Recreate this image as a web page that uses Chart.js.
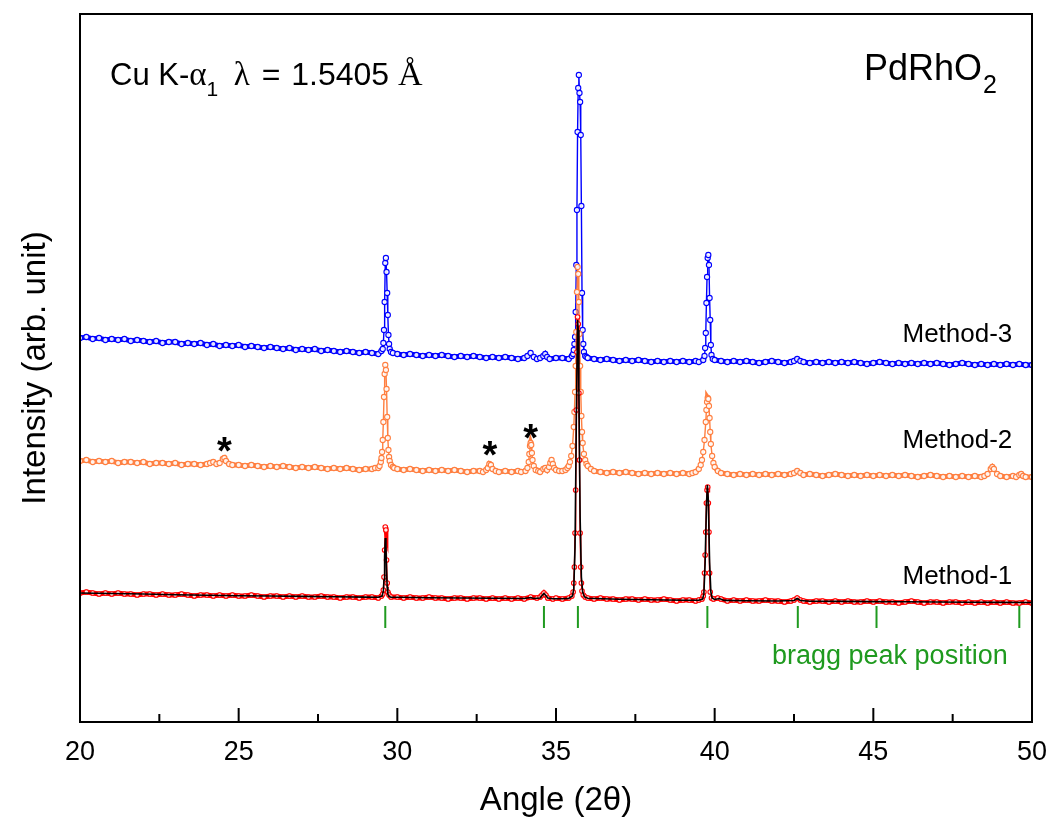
<!DOCTYPE html>
<html>
<head>
<meta charset="utf-8">
<script src="https://cdn.jsdelivr.net/npm/chart.js@4.4.0/dist/chart.umd.min.js"></script>
<style>
  html, body { margin: 0; background: #fff; }
</style>
</head>
<body>
<canvas id="xrd" width="1053" height="823"></canvas>
<script>
// 2theta / intensity pairs (arb. units, stacked traces)
const m3 = [
[20.0,384],[20.2,385],[20.4,383],[20.6,384],[20.8,382],[21.0,383],[21.2,382],[21.4,383],[21.6,381],[21.8,382],
[22.0,381],[22.2,380],[22.4,381],[22.6,379],[22.8,380],[23.0,380],[23.2,378],[23.4,379],[23.6,378],[23.8,379],
[24.0,377],[24.2,378],[24.4,376],[24.6,377],[24.8,376],[25.0,377],[25.2,375],[25.4,376],[25.6,375],[25.8,374],
[26.0,375],[26.2,374],[26.4,373],[26.6,374],[26.8,372],[27.0,373],[27.2,372],[27.4,373],[27.6,371],[27.8,372],
[28.0,371],[28.2,370],[28.4,371],[28.6,370],[28.8,369],[29.0,370],[29.2,369],[29.4,368],
[29.50,371],[29.54,373],[29.56,379],[29.58,392],[29.60,420],[29.62,459],[29.64,464],[29.66,450],[29.68,429],
[29.70,407],[29.72,387],[29.74,378],[29.76,373],[29.80,370],[29.86,369],
[30.0,368],[30.2,367],[30.4,368],[30.6,367],[30.8,366],[31.0,367],[31.2,366],[31.4,367],[31.6,366],[31.8,365],
[32.0,366],[32.2,365],[32.4,366],[32.6,365],[32.8,364],[33.0,365],[33.2,364],[33.4,365],[33.6,364],[33.8,363],
[34.0,364],[34.1,366],[34.2,369],[34.3,365],[34.4,363],[34.5,364],[34.6,366],[34.66,368],[34.72,365],[34.8,363],
[35.0,364],[35.2,364],[35.4,363],
[35.50,366],[35.54,368],[35.56,372],[35.58,378],[35.60,385],[35.62,410],[35.64,457],[35.66,512],[35.68,590],
[35.70,634],[35.72,647],[35.74,629],[35.76,620],[35.78,587],[35.80,516],[35.82,429],[35.84,392],[35.86,378],
[35.88,370],[35.92,366],[35.96,365],
[36.0,364],[36.2,363],[36.4,362],[36.6,363],[36.8,362],[37.0,361],[37.2,362],[37.4,361],[37.6,362],[37.8,361],
[38.0,360],[38.2,361],[38.4,360],[38.6,361],[38.8,360],[39.0,361],[39.2,360],[39.4,361],[39.5,360],
[39.64,362],[39.68,366],[39.70,374],[39.72,389],[39.74,419],[39.76,445],[39.78,464],[39.80,467],[39.82,457],
[39.84,424],[39.86,402],[39.88,377],[39.90,367],[39.94,363],[40.0,362],
[40.2,361],[40.4,360],[40.6,361],[40.8,360],[41.0,361],[41.2,360],[41.4,359],[41.6,360],[41.8,361],[42.0,360],
[42.2,359],[42.4,360],[42.5,361],[42.6,363],[42.7,361],[42.8,360],[43.0,359],[43.2,360],[43.4,359],[43.6,360],
[43.8,359],[44.0,360],[44.2,359],[44.4,360],[44.6,359],[44.8,358],[45.0,359],[45.2,360],[45.4,359],[45.6,358],
[45.8,359],[46.0,358],[46.2,359],[46.4,358],[46.6,359],[46.8,358],[47.0,359],[47.2,358],[47.4,357],[47.6,358],
[47.8,359],[48.0,358],[48.2,357],[48.4,358],[48.6,357],[48.8,358],[49.0,357],[49.2,358],[49.4,357],[49.6,358],
[49.8,357],[50.0,357]
];

const m2 = [
[20.0,261],[20.2,262],[20.4,260],[20.6,261],[20.8,260],[21.0,261],[21.2,259],[21.4,260],[21.6,260],[21.8,259],
[22.0,260],[22.2,258],[22.4,259],[22.6,259],[22.8,258],[23.0,259],[23.2,257],[23.4,258],[23.6,258],[23.8,257],
[24.0,258],[24.1,259],[24.2,260],[24.3,258],[24.4,259],[24.5,263],[24.55,264],[24.6,261],[24.7,258],[24.8,257],
[25.0,257],[25.2,256],[25.4,257],[25.6,256],[25.8,255],[26.0,256],[26.2,255],[26.4,256],[26.6,255],[26.8,254],
[27.0,255],[27.2,254],[27.4,255],[27.6,254],[27.8,253],[28.0,254],[28.2,253],[28.4,254],[28.6,253],[28.8,252],
[29.0,253],[29.2,253],[29.3,254],
[29.40,254],[29.44,256],[29.48,260],[29.50,264],[29.52,270],[29.54,282],[29.56,300],[29.58,325],[29.60,348],
[29.62,357],[29.64,352],[29.66,333],[29.68,305],[29.70,284],[29.72,272],[29.74,265],[29.76,261],[29.80,257],
[29.86,255],[29.90,254],
[30.0,253],[30.2,252],[30.4,253],[30.6,252],[30.8,251],[31.0,252],[31.2,251],[31.4,252],[31.6,251],[31.8,252],
[32.0,251],[32.2,250],[32.4,251],[32.6,251],[32.7,250],[32.8,252],[32.85,254],[32.9,258],[32.95,257],[33.0,253],
[33.1,251],[33.2,250],[33.4,251],[33.6,250],[33.8,251],[33.9,250],
[34.04,251],[34.10,254],[34.14,260],[34.16,268],[34.18,276],[34.20,279],[34.22,277],[34.24,269],[34.26,262],
[34.30,256],[34.36,252],[34.44,251],
[34.5,250],[34.60,253],[34.66,254],[34.72,252],[34.78,255],[34.82,259],[34.86,262],[34.90,258],[34.94,254],[35.0,252],
[35.1,251],[35.2,251],
[35.30,252],[35.36,254],[35.40,256],[35.44,260],[35.48,266],[35.52,276],[35.56,295],[35.58,310],[35.60,330],
[35.62,356],[35.64,390],[35.66,430],[35.68,455],[35.70,448],[35.72,420],[35.74,388],[35.76,356],[35.78,330],
[35.80,306],[35.82,290],[35.84,279],[35.88,268],[35.92,262],[35.96,258],[36.00,256],[36.10,253],[36.20,251],
[36.4,250],[36.6,249],[36.8,250],[37.0,249],[37.2,250],[37.4,249],[37.6,248],[37.8,249],[38.0,248],[38.2,249],
[38.4,248],[38.6,249],[38.8,248],[39.0,249],[39.2,248],[39.3,249],
[39.40,250],[39.50,253],[39.56,257],[39.60,262],[39.64,270],[39.68,282],[39.72,300],[39.74,312],[39.76,320],
[39.78,324],[39.80,323],[39.82,316],[39.84,304],[39.86,290],[39.88,278],[39.92,266],[39.96,259],[40.00,255],
[40.10,251],[40.20,249],
[40.4,248],[40.6,247],[40.8,248],[41.0,247],[41.2,248],[41.4,247],[41.6,248],[41.8,247],[42.0,248],[42.2,247],
[42.4,248],[42.5,249],[42.6,251],[42.7,249],[42.8,247],[43.0,248],[43.2,247],[43.4,246],[43.6,247],[43.8,248],
[44.0,247],[44.2,246],[44.4,247],[44.6,246],[44.8,247],[45.0,246],[45.2,247],[45.4,246],[45.6,247],[45.8,246],
[46.0,247],[46.2,246],[46.4,245],[46.6,246],[46.8,247],[47.0,246],[47.2,245],[47.4,246],[47.6,245],[47.8,246],
[48.0,245],[48.2,246],[48.4,245],[48.5,246],[48.6,248],[48.7,253],[48.75,255],[48.8,253],[48.9,248],[49.0,246],
[49.2,245],[49.4,246],[49.5,245],[49.6,247],[49.66,248],[49.72,246],[49.8,245],[50.0,245]
];

const m1 = [
[20.0,129],[20.2,130],[20.4,129],[20.6,128],[20.8,129],[21.0,128],[21.2,129],[21.4,128],[21.6,128],[21.8,127],
[22.0,128],[22.2,128],[22.4,127],[22.6,128],[22.8,127],[23.0,127],[23.2,128],[23.4,127],[23.6,126],[23.8,127],
[24.0,127],[24.2,126],[24.4,127],[24.6,126],[24.8,127],[25.0,126],[25.2,126],[25.4,127],[25.6,126],[25.8,125],
[26.0,126],[26.2,126],[26.4,125],[26.6,126],[26.8,125],[27.0,126],[27.2,125],[27.4,125],[27.6,126],[27.8,125],
[28.0,125],[28.2,124],[28.4,125],[28.6,125],[28.8,124],[29.0,125],[29.2,125],[29.4,124],
[29.50,126],[29.54,128],[29.56,132],[29.58,145],[29.60,172],[29.62,195],[29.64,192],[29.66,162],[29.68,139],
[29.70,130],[29.74,127],[29.80,125],
[30.0,125],[30.2,124],[30.4,125],[30.6,124],[30.8,124],[31.0,125],[31.2,124],[31.4,124],[31.6,123],[31.8,124],
[32.0,124],[32.2,123],[32.4,124],[32.6,124],[32.8,123],[33.0,124],[33.2,123],[33.4,124],[33.6,123],[33.8,124],
[34.0,123],[34.2,125],[34.4,124],[34.5,125],[34.56,127],[34.62,129],[34.68,127],[34.74,124],[34.9,123],[35.0,124],
[35.2,123],[35.4,124],
[35.50,126],[35.54,130],[35.56,139],[35.58,155],[35.60,189],[35.62,232],[35.64,312],[35.66,370],[35.68,405],
[35.70,398],[35.72,329],[35.74,262],[35.76,189],[35.78,155],[35.80,139],[35.82,131],[35.86,127],[35.92,125],
[36.0,124],[36.2,123],[36.4,124],[36.6,123],[36.8,123],[37.0,122],[37.2,123],[37.4,123],[37.6,122],[37.8,123],
[38.0,122],[38.2,122],[38.4,123],[38.6,122],[38.8,121],[39.0,122],[39.2,122],[39.4,121],[39.5,122],
[39.60,123],[39.64,126],[39.66,130],[39.68,149],[39.70,167],[39.72,190],[39.74,219],[39.76,232],[39.78,235],
[39.80,219],[39.82,190],[39.84,149],[39.86,130],[39.90,124],[39.96,123],
[40.1,124],[40.2,123],[40.4,121],[40.6,122],[40.8,121],[41.0,122],[41.2,121],[41.4,121],[41.6,122],[41.8,121],
[42.0,121],[42.2,120],[42.4,121],[42.5,122],[42.6,124],[42.7,122],[42.8,121],[43.0,120],[43.2,121],[43.4,121],
[43.6,120],[43.8,121],[44.0,120],[44.2,121],[44.4,120],[44.6,120],[44.8,121],[45.0,120],[45.2,121],[45.4,120],
[45.6,120],[45.8,119],[46.0,120],[46.2,121],[46.4,120],[46.6,119],[46.8,120],[47.0,120],[47.2,119],[47.4,120],
[47.6,120],[47.8,119],[48.0,120],[48.2,119],[48.4,120],[48.6,119],[48.8,120],[49.0,119],[49.2,120],[49.4,119],
[49.6,119],[49.8,120],[50.0,119]
];

// calculated profile for method-1 (black line)
const m1calc = [
[20,129],[21,128.5],[22,128],[23,127.3],[24,126.8],[25,126.3],[26,126],[27,125.6],[28,125.2],[29,124.9],
[29.4,124.8],[29.52,126],[29.56,131],[29.58,142],[29.60,165],[29.62,184],[29.64,176],[29.66,152],[29.68,135],
[29.70,128],[29.74,125.5],[29.8,124.8],[30,124.7],[31,124.3],[32,124],[33,123.7],[34,123.5],[34.2,124.5],
[34.3,123.5],[34.5,124],[34.56,126.5],[34.62,128.5],[34.68,126.5],[34.74,124],[34.9,123.3],[35.2,123.3],
[35.4,123.6],[35.52,126],[35.56,133],[35.60,175],[35.64,300],[35.68,402],[35.70,392],[35.72,335],[35.76,205],
[35.80,145],[35.84,130],[35.90,125],[36.0,123.8],[37,122.8],[38,122.3],[39,121.8],[39.5,121.8],[39.62,123],
[39.66,128],[39.70,160],[39.74,215],[39.77,237],[39.80,222],[39.84,160],[39.88,130],[39.92,124],[40.0,122.5],
[40.15,123.5],[40.3,121.6],[41,121.3],[42,121],[42.5,121.5],[42.6,123.5],[42.7,121.5],[43,120.8],[44,120.6],
[45,120.4],[46,120.2],[47,120],[48,119.8],[49,119.6],[50,119.5]
];

const braggAngle = [29.62, 34.62, 35.69, 39.77, 42.62, 45.1, 49.6];
const braggLevel = 105;

const starAngle = [24.55, 32.92, 34.2];
const starInt = [276, 272, 289];

const methodNames = ['Method-1', 'Method-2', 'Method-3'];
const methodLabelInt = [138, 274, 380];

const majorTicks = [20, 25, 30, 35, 40, 45, 50];
const minorTicks = [22.5, 27.5, 32.5, 37.5, 42.5, 47.5];

const SANS = "'Liberation Sans', Arial, sans-serif";
const SERIF = "'Liberation Serif', 'Times New Roman', serif";
const GREEN = '#1f9a1f';

Chart.defaults.font.family = SANS;
Chart.defaults.color = '#000';

// draws text pieces one after another (used for subscripts / mixed fonts)
function drawRuns(ctx, x, y, runs) {
  runs.forEach(r => {
    ctx.font = r.font;
    ctx.fillText(r.text, x, y + (r.dy || 0));
    x += ctx.measureText(r.text).width + (r.gap || 0);
  });
}

const decor = {
  id: 'decor',
  afterDraw(chart) {
    const { ctx, chartArea: a, scales: { x, y } } = chart;
    ctx.save();
    ctx.strokeStyle = '#000';
    ctx.lineWidth = 2;
    ctx.strokeRect(a.left, a.top, a.right - a.left, a.bottom - a.top);
    ctx.beginPath();
    majorTicks.forEach(v => {
      const px = x.getPixelForValue(v);
      ctx.moveTo(px, a.bottom); ctx.lineTo(px, a.bottom - 14);
    });
    minorTicks.forEach(v => {
      const px = x.getPixelForValue(v);
      ctx.moveTo(px, a.bottom); ctx.lineTo(px, a.bottom - 8);
    });
    ctx.stroke();

    ctx.fillStyle = '#000';
    ctx.textBaseline = 'alphabetic';

    // impurity stars
    ctx.font = 'bold 38px ' + SANS;
    ctx.textAlign = 'center';
    starAngle.forEach((v, i) => {
      ctx.fillText('*', x.getPixelForValue(v), y.getPixelForValue(starInt[i]) + 18);
    });

    // trace labels
    ctx.font = '26px ' + SANS;
    ctx.textAlign = 'right';
    methodNames.forEach((t, i) => {
      ctx.fillText(t, x.getPixelForValue(49.38), y.getPixelForValue(methodLabelInt[i]));
    });

    ctx.textAlign = 'left';
    ctx.fillStyle = GREEN;
    ctx.font = '27px ' + SANS;
    ctx.fillText('bragg peak position', 772, 664);

    ctx.fillStyle = '#000';
    drawRuns(ctx, 110, 85, [
      { text: 'Cu K-', font: '31px ' + SANS },
      { text: 'α', font: '33px ' + SERIF },
      { text: '1', font: '21px ' + SANS, dy: 11, gap: 7 },
      { text: ' ', font: '31px ' + SANS },
      { text: 'λ', font: '33px ' + SERIF, gap: 3 },
      { text: ' = ', font: '32px ' + SANS, gap: 2 },
      { text: '1.5405 ', font: '32px ' + SANS },
      { text: 'Å', font: '34px ' + SERIF }
    ]);
    drawRuns(ctx, 864, 80, [
      { text: 'PdRhO', font: '36px ' + SANS, gap: 1 },
      { text: '2', font: '25px ' + SANS, dy: 13 }
    ]);
    ctx.restore();
  }
};

const trace = (data, color, extra) => Object.assign({
  data,
  borderColor: color,
  borderWidth: 1.4,
  pointRadius: 2.6,
  pointBorderWidth: 1.1,
  pointBorderColor: color,
  pointBackgroundColor: 'rgba(255,255,255,0.9)',
  pointHoverRadius: 0,
  tension: 0,
  segment: {
    borderWidth: c => Math.abs(c.p1.y - c.p0.y) < 4 ? 5 : 1.4
  }
}, extra);

new Chart(document.getElementById('xrd'), {
  type: 'line',
  data: {
    datasets: [
      trace(m1calc, '#000000', { borderWidth: 1.6, pointRadius: 0, segment: {} }),
      trace(m1, '#ff0000', { pointRadius: 2.3 }),
      trace(m2, '#ff7f40'),
      trace(m3, '#0000ff'),
      {
        data: braggAngle.map(a => [a, braggLevel]),
        showLine: false,
        pointStyle: 'line',
        rotation: 90,
        pointRadius: 11,
        pointBorderWidth: 2,
        pointBorderColor: GREEN,
        borderColor: GREEN
      }
    ]
  },
  options: {
    responsive: false,
    animation: false,
    events: [],
    layout: { padding: { top: 14, right: 21, left: 0, bottom: 0 } },
    plugins: { legend: { display: false }, tooltip: { enabled: false } },
    scales: {
      x: {
        type: 'linear',
        min: 20,
        max: 50,
        afterFit: s => { s.height = 101; s.paddingLeft = 0; s.paddingRight = 0; },
        grid: { display: false },
        border: { display: false },
        ticks: { stepSize: 5, color: '#000', font: { size: 27 }, padding: 6 },
        title: { display: true, text: 'Angle (2θ)', color: '#000', font: { size: 33 }, padding: { top: 0, bottom: 2 } }
      },
      y: {
        min: 0,
        max: 708,
        afterFit: s => { s.width = 80; },
        grid: { display: false },
        border: { display: false },
        ticks: { display: false },
        title: { display: true, text: 'Intensity (arb. unit)', color: '#000', font: { size: 33 }, padding: { top: 16, bottom: 0 } }
      }
    }
  },
  plugins: [decor]
});
</script>
</body>
</html>
